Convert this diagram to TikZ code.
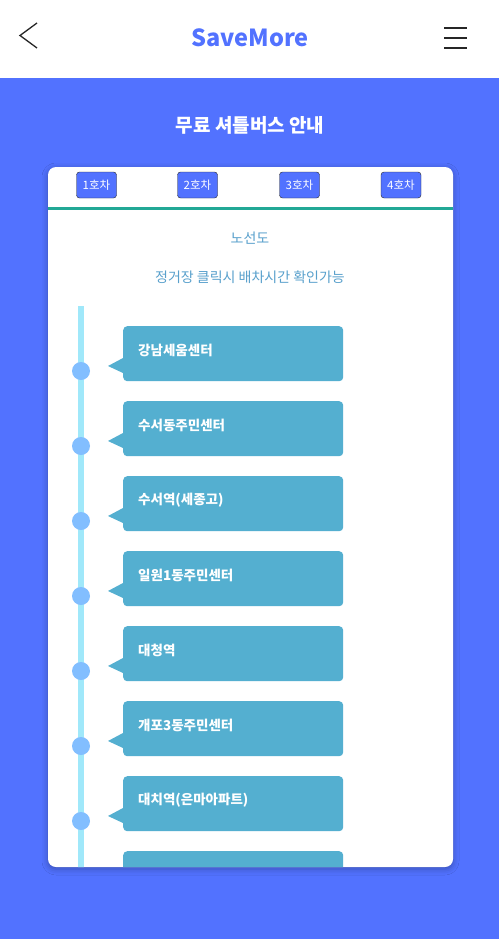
\documentclass[tikz,border=0pt]{standalone}
\usepackage{fontspec}
\setmainfont{Noto Sans CJK KR}
\usetikzlibrary{shadows.blur}
\definecolor{brand}{RGB}{82,114,255}
\definecolor{stopblue}{RGB}{84,175,208}
\definecolor{railcyan}{RGB}{160,232,250}
\definecolor{dotblue}{RGB}{130,190,255}
\definecolor{tealline}{RGB}{34,168,150}
\definecolor{hintblue}{RGB}{88,160,204}
\begin{document}
\begin{tikzpicture}[x=1pt, y=-1pt,
  tab/.style={draw=black!85, fill=brand, rounded corners=3pt, minimum width=40pt, minimum height=26pt, inner sep=0pt, text=white, font=\fontsize{11.5}{11.5}\selectfont},
  stopbox/.style={fill=stopblue, rounded corners=4pt, minimum width=220pt, minimum height=55pt, inner sep=0pt, anchor=north west},
  stoptext/.style={anchor=west, inner sep=0pt, text=white, font=\fontsize{13.5}{13.5}\selectfont\bfseries},
  stopdot/.style={circle, fill=dotblue, minimum size=18pt, inner sep=0pt},
  hint/.style={text=hintblue, font=\fontsize{14}{14}\selectfont}]

\useasboundingbox (0,0) rectangle (499,939);
\fill[white] (0,0) rectangle (499,78);
\fill[brand] (0,78) rectangle (499,939);

\coordinate (bk1) at (37,23);
\coordinate (bk2) at (20,35.5);
\coordinate (bk3) at (37,48);
\draw[black!85, line width=1.3pt] (bk1) -- (bk2) -- (bk3);
\foreach \y in {28,38,48}
  \draw[black!85, line width=1.5pt] (444,\y) -- (467,\y);
\node[text=brand, font=\fontsize{23.5}{23.5}\selectfont\bfseries] (logo) at (250,38) {SaveMore};
\node[text=white, font=\fontsize{19}{19}\selectfont\bfseries] (title) at (250,125) {무료 셔틀버스 안내};

\fill[white, rounded corners=8pt, blur shadow={shadow xshift=0pt, shadow yshift=-2pt, shadow blur radius=6pt, shadow opacity=30}] (48,167) rectangle (453,867);

\foreach \i/\x in {1/96.5, 2/197.5, 3/299.5, 4/401}
  \node[tab] (bus\i) at (\x,185) {\i{}호차};
\draw[tealline, line width=3pt] (48,208.5) -- (453,208.5);

\node[hint] (map) at (250,238) {노선도};
\node[hint] (note) at (250,277) {정거장 클릭시 배차시간 확인가능};

\begin{scope}
\clip[rounded corners=8pt] (48,167) rectangle (453,867);
\coordinate (railtop) at (81,306);
\coordinate (railend) at (81,900);
\draw[railcyan, line width=6pt] (railtop) -- (railend);
\foreach \i/\name in {0/강남세움센터, 1/수서동주민센터, 2/수서역(세종고), 3/일원1동주민센터, 4/대청역, 5/개포3동주민센터, 6/대치역(은마아파트), 7/{}}{
  \pgfmathsetmacro\ytop{326+75*\i}
  \node[stopbox] (s\i) at (123,\ytop) {};
  \fill[stopblue] (123,\ytop+32) -- (108,\ytop+40) -- (123,\ytop+47) -- cycle;
  \node[stopdot] (d\i) at (81,\ytop+45) {};
  \node[stoptext] (t\i) at (138,\ytop+24) {\name};
}
\end{scope}

\end{tikzpicture}
\end{document}
